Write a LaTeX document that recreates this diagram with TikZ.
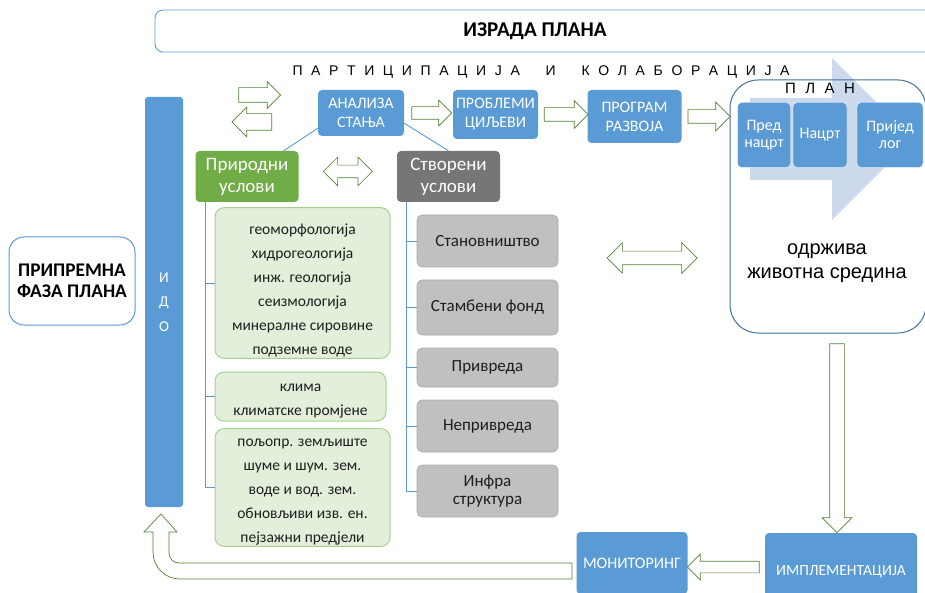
\documentclass[tikz,border=0pt]{standalone}
\usepackage{fontspec}
\setmainfont{Carlito}
\newfontfamily\arialfont{Liberation Sans}
\usetikzlibrary{shapes.arrows}
\definecolor{boxblue}{RGB}{91,155,213}
\definecolor{natgreen}{RGB}{112,173,71}
\definecolor{builtgray}{RGB}{118,118,118}
\definecolor{lightgreen}{RGB}{226,239,218}
\definecolor{greenline}{RGB}{169,209,142}
\definecolor{lightgray}{RGB}{192,192,192}
\definecolor{grayline}{RGB}{170,170,170}
\definecolor{arrowgreen}{RGB}{84,130,53}
\definecolor{planline}{RGB}{65,113,156}
\definecolor{chevron}{RGB}{205,218,238}
\definecolor{textgray}{RGB}{30,30,30}
\newcommand{\topgap}[1]{\rule{0pt}{#1}}
\begin{document}
\begin{tikzpicture}[x=1pt, y=-1pt,
  stepbox/.style={fill=boxblue, rounded corners=4pt, text=white, align=center, inner sep=1pt, font=\fontsize{16}{19}\selectfont},
  headbox/.style={rounded corners=4pt, text=white, align=center, inner sep=1pt, minimum width=103pt, minimum height=51pt, font=\fontsize{19}{22}\selectfont},
  natlist/.style={fill=lightgreen, draw=greenline, line width=1pt, rounded corners=9pt, align=center, text=textgray, inner sep=1pt, font=\fontsize{15.5}{24}\selectfont},
  builtlist/.style={fill=lightgray, draw=grayline, line width=0.6pt, rounded corners=5pt, align=center, text=textgray, inner sep=1pt, minimum width=141pt, font=\fontsize{17}{18}\selectfont},
  treeline/.style={boxblue, line width=0.9pt},
  hollow/.style n args={3}{single arrow, draw=arrowgreen, fill=white, line width=0.7pt, inner sep=0pt, inner ysep=#2, minimum height=#1, single arrow head extend=#3},
  dblarrow/.style n args={3}{double arrow, draw=arrowgreen, fill=white, line width=0.7pt, inner sep=0pt, inner ysep=#2, minimum height=#1, double arrow head extend=#3}]
\useasboundingbox (0,0) rectangle (925,593);
\clip (0,0) rectangle (925,593);
% izrada plana
\draw[boxblue, line width=0.9pt, rounded corners=8pt, fill=white] (155,10) rectangle (950,52);
\node[font=\bfseries\fontsize{21}{24}\selectfont] (izrada) at (535,31) {ИЗРАДА ПЛАНА};
\node[font=\arialfont\fontsize{14}{16}\selectfont, inner sep=0pt] (partic) at (541,72)
  {\makebox[497pt][s]{П А Р Т И Ц И П А Ц И Ј А \ \ И \ \ К О Л А Б О Р А Ц И Ј А}};
% plan
\fill[chevron] (750,98) -- (832,98) -- (832,58) -- (913,139) -- (832,220) -- (832,180) -- (750,180) -- cycle;
\node[draw=planline, line width=1pt, rounded corners=28pt, minimum width=196pt, minimum height=253pt] (plan) at (828,206.5) {};
\node[font=\arialfont\fontsize{15}{17}\selectfont, inner sep=0pt] (planlabel) at (820,88) {\makebox[70pt][s]{П Л А Н}};
\node[stepbox, draw=white, font=\fontsize{16}{17}\selectfont, minimum width=53pt, minimum height=65pt] (prednacrt) at (764,135) {Пред\\нацрт};
\node[stepbox, draw=white, font=\fontsize{16}{17}\selectfont, minimum width=54pt, minimum height=65pt] (nacrt) at (820,135) {Нацрт};
\node[stepbox, draw=white, font=\fontsize{16}{17}\selectfont, minimum width=66pt, minimum height=65pt] (prijedlog) at (890,135) {Пријед\\лог};
\node[font=\arialfont\fontsize{20}{24}\selectfont, align=center] (odrziva) at (827,263) {одржива\\животна средина};
\node[dblarrow={90pt}{6.5pt}{8.5pt}] (veza) at (652,258) {};
% implementacija i monitoring
\node[hollow={189pt}{7pt}{7.5pt}, rotate=-90] (spust) at (837,434.5) {};
\node[stepbox, font=\fontsize{15.5}{17}\selectfont, minimum width=152pt, minimum height=78pt] (implement) at (841,572) {ИМПЛЕМЕНТАЦИЈА};
\node[stepbox, font=\fontsize{16}{17}\selectfont, minimum width=111pt, minimum height=62pt] (monitor) at (632,563) {МОНИТОРИНГ};
\path (implement.west |- 0,567) -- (monitor.east |- 0,567) node[midway, hollow={72pt}{5.5pt}{7pt}, rotate=180] (povrat) {};
\draw[arrowgreen, fill=white, line width=0.7pt] (572,563) -- (572,579) -- (180,579)
  .. controls (165,579) and (153,567) .. (153,552) -- (153,532) -- (144,532) -- (161,514)
  -- (177,532) -- (169,532) -- (169,553) .. controls (169,558.5) and (173.5,563) .. (179,563) -- cycle;
% ido i pripremna faza
\node[fill=boxblue, rounded corners=3pt, minimum width=38pt, minimum height=410pt, text=white, align=center, font=\fontsize{15}{24.5}\selectfont] (ido) at (164,302) {И\\Д\\О};
\node[draw=boxblue, line width=1pt, rounded corners=15pt, fill=white, minimum width=126pt, minimum height=88pt, align=center, font=\bfseries\fontsize{19.3}{21}\selectfont] (pripremna) at (72,281) {ПРИПРЕМНА\\ФАЗА ПЛАНА};
% analiza, problemi, program
\node[hollow={42pt}{7pt}{6pt}] (napred) at (256,95) {};
\node[hollow={40pt}{8pt}{6.5pt}, rotate=180] (nazad) at (256,122) {};
\node[stepbox, minimum width=86pt, minimum height=46pt] (analiza) at (361,113) {АНАЛИЗА\\СТАЊА};
\node[stepbox, minimum width=85pt, minimum height=49pt] (problemi) at (495.5,114.5) {ПРОБЛЕМИ\\ЦИЉЕВИ};
\node[stepbox, minimum width=94pt, minimum height=53pt] (program) at (634.5,116.5) {ПРОГРАМ\\РАЗВОЈА};
\path (analiza.east) -- (analiza.east -| problemi.west) node[midway, hollow={40pt}{6pt}{6.5pt}] {};
\path (problemi.east) -- (problemi.east -| program.west) node[midway, hollow={44pt}{6.5pt}{7pt}] {};
\path (program.east) -- (program.east -| plan.west) node[midway, hollow={42pt}{6.5pt}{7.5pt}] {};
% uslovi
\node[headbox, fill=natgreen] (prirodni) at (247,176.5) {Природни\\услови};
\node[headbox, fill=builtgray] (stvoreni) at (448.5,176.5) {Створени\\услови};
\path (prirodni.east) -- (stvoreni.west) node[midway, yshift=5pt, dblarrow={49pt}{6pt}{8pt}] {};
\draw[treeline] ([yshift=8pt]analiza.south west) -- ([xshift=-15pt]prirodni.north east);
\draw[treeline] ([yshift=13pt]analiza.south east) -- (stvoreni.north);
\node[natlist, minimum width=175pt, minimum height=150pt] (geo) at (302.5,283)
  {\topgap{26pt}геоморфологија\\хидрогеологија\\инж. геологија\\сеизмологија\\минералне сировине\\подземне воде};
\node[natlist, minimum width=171pt, minimum height=49pt] (klima) at (300.5,396.5) {\topgap{16pt}клима\\климатске промјене};
\node[natlist, minimum width=175pt, minimum height=115pt] (prostor) at (302.5,487.5)
  {\topgap{17pt}пољопр. земљиште\\шуме и шум. зем.\\воде и вод. зем.\\обновљиви изв. ен.\\пејзажни предјели};
\node[builtlist, minimum height=52pt] (stanov) at (487.5,241) {Становништво};
\node[builtlist, minimum height=55pt] (stamb) at (487.5,307.5) {Стамбени фонд};
\node[builtlist, minimum height=39pt] (privreda) at (487.5,367.5) {Привреда};
\node[builtlist, minimum height=52pt] (neprivreda) at (487.5,426) {Непривреда};
\node[builtlist, minimum height=52pt] (infra) at (487.5,491) {Инфра\\структура};
\coordinate (ntrunk) at ([xshift=10pt]prirodni.south west);
\coordinate (btrunk) at ([xshift=10pt]stvoreni.south west);
\draw[treeline] (ntrunk) |- (prostor.west);
\foreach \b in {geo,klima}
  \draw[treeline] (ntrunk |- \b.west) -- (\b.west);
\draw[treeline] (btrunk) |- (infra.west);
\foreach \b in {stanov,stamb,privreda,neprivreda}
  \draw[treeline] (btrunk |- \b.west) -- (\b.west);
\end{tikzpicture}
\end{document}
